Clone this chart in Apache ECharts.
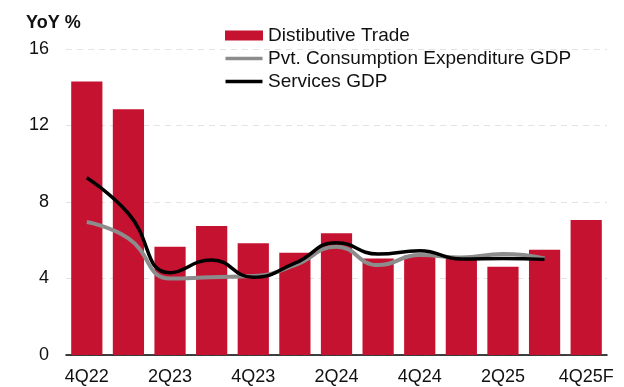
<!DOCTYPE html>
<html><head><meta charset="utf-8">
<script src="https://cdn.jsdelivr.net/npm/echarts@6/dist/echarts.min.js"></script>
<style>html,body{margin:0;padding:0;background:#fff}#c{width:624px;height:387px}</style>
</head><body><div id="c"></div>
<script>
const categories = ['4Q22','1Q23','2Q23','3Q23','4Q23','1Q24','2Q24','3Q24','4Q24','1Q25','2Q25','3Q25','4Q25F'];
const distributiveTrade = [14.3, 12.85, 5.66, 6.75, 5.84, 5.35, 6.36, 5.05, 5.2, 5.05, 4.62, 5.5, 7.06];
const pceGdp = [6.95, 6.1, 4.0, 4.07, 4.13, 4.7, 5.66, 4.7, 5.23, 5.1, 5.28, 5.05, null];
const servicesGdp = [9.27, 7.4, 4.3, 4.97, 4.07, 4.8, 5.87, 5.28, 5.45, 5.02, 5.05, 5.0, null];
const yTicks = [0, 4, 8, 12, 16];

const chart = echarts.init(document.getElementById('c'));
const font = 'Liberation Sans, Arial, sans-serif';
const lineIcon = 'path://M0,0 M37,10 M0,3.3 L37,3.3 L37,6.7 L0,6.7 Z';
chart.setOption({
  animation: false,
  textStyle: { fontFamily: font },
  title: { text: 'YoY %', left: 21, top: 9, textStyle: { fontFamily: font, fontSize: 18, fontWeight: 'bold', color: '#111' } },
  legend: {
    orient: 'vertical', left: 220, top: 21, itemGap: 4, itemWidth: 38, itemHeight: 10,
    textStyle: { fontFamily: font, fontSize: 19, color: '#111' },
    data: [
      { name: 'Distibutive Trade', icon: 'rect' },
      { name: 'Pvt. Consumption Expenditure GDP', icon: lineIcon },
      { name: 'Services GDP', icon: lineIcon }
    ]
  },
  grid: { left: 66, right: 17, top: 49, bottom: 32 },
  xAxis: {
    type: 'category', data: categories,
    axisLine: { lineStyle: { color: '#000', width: 1.5 } },
    axisTick: { alignWithLabel: false, length: 5, lineStyle: { color: '#000', width: 1.5 }, interval: 0 },
    axisLabel: { interval: 1, fontSize: 18, color: '#111', fontFamily: font, margin: 13 }
  },
  yAxis: {
    type: 'value', min: 0, max: 16, interval: 4,
    axisLine: { show: false }, axisTick: { show: false },
    axisLabel: { fontSize: 18, color: '#111', fontFamily: font, margin: 17,
      formatter: v => yTicks.includes(v) ? String(v) : '' },
    splitLine: { show: true, lineStyle: { color: '#e3e3e3', type: [6, 5], width: 1 } }
  },
  series: [
    { name: 'Distibutive Trade', type: 'bar', data: distributiveTrade, barCategoryGap: '25%',
      itemStyle: { color: '#C41230' } },
    { name: 'Pvt. Consumption Expenditure GDP', type: 'line', data: pceGdp, smooth: 0.5,
      symbol: 'none', lineStyle: { color: '#8c8c8c', width: 4 }, itemStyle: { color: '#8c8c8c' } },
    { name: 'Services GDP', type: 'line', data: servicesGdp, smooth: 0.5,
      symbol: 'none', lineStyle: { color: '#000', width: 3.5 }, itemStyle: { color: '#000' } }
  ]
});
</script></body></html>
